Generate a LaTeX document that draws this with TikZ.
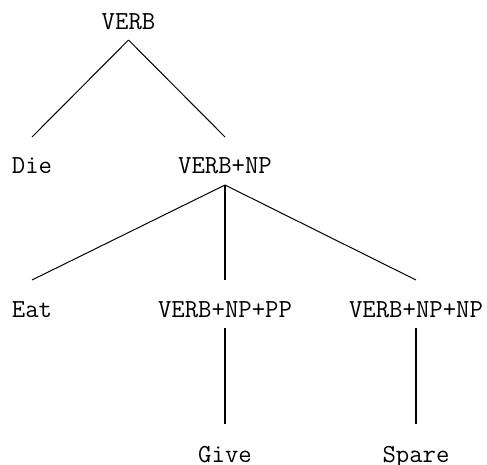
\documentclass[tikz,border=0pt]{standalone}
\usepackage{fontspec}
\begin{document}
\begin{tikzpicture}[x=1pt,y=1pt,
  lbl/.style={anchor=base,inner sep=0pt,font=\ttfamily\fontsize{26}{30}\selectfont},
  edge/.style={line width=1pt,black},
  vedge/.style={line width=1.4pt,black}]
\useasboundingbox (0,0) rectangle (487,-464);
\node[lbl] (verb) at (128.5,-29) {VERB};
\node[lbl] (die) at (32,-173) {Die};
\node[lbl] (vnp) at (225,-173) {VERB+NP};
\node[lbl] (eat) at (32,-317) {Eat};
\node[lbl] (vnppp) at (225,-317) {VERB+NP+PP};
\node[lbl] (vnpnp) at (416,-317) {VERB+NP+NP};
\node[lbl] (give) at (225,-462) {Give};
\node[lbl] (spare) at (416,-462) {Spare};
\draw[edge] ([yshift=-11]verb.base) -- ([yshift=36]die.base);
\draw[edge] ([yshift=-11]verb.base) -- ([yshift=36]vnp.base);
\draw[edge] ([yshift=-12]vnp.base) -- ([yshift=37]eat.base);
\draw[vedge] ([yshift=-12]vnp.base) -- ([yshift=37]vnppp.base);
\draw[edge] ([yshift=-12]vnp.base) -- ([yshift=37]vnpnp.base);
\draw[vedge] ([yshift=-11]vnppp.base) -- ([yshift=38]give.base);
\draw[vedge] ([yshift=-11]vnpnp.base) -- ([yshift=38]spare.base);
\end{tikzpicture}
\end{document}
